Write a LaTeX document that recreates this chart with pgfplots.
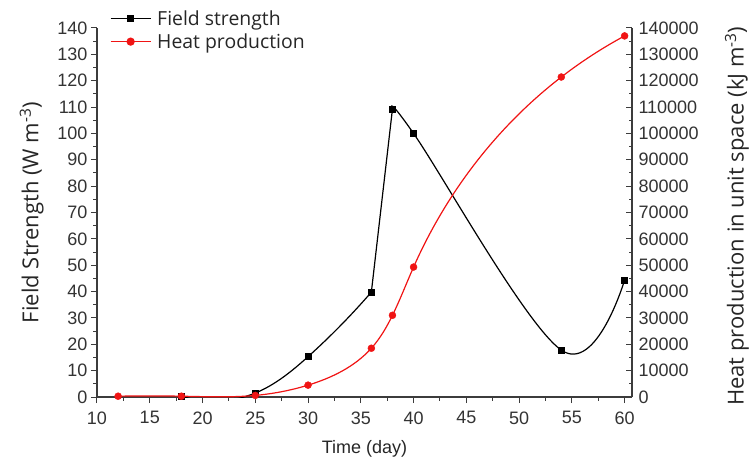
\documentclass[border=0pt]{standalone}
\usepackage{pgfplots}
\pgfplotsset{compat=1.18}
\usetikzlibrary{hobby}
\usepackage{fontspec}
\setmainfont{Open Sans}
\newfontfamily\tickfont{Liberation Sans}
\definecolor{axgray}{RGB}{60,60,60}
\definecolor{myred}{RGB}{240,20,20}
\begin{document}
\begin{tikzpicture}
\pgfplotsset{
  common/.style={
    scale only axis, width=535pt, height=369pt,
    xmin=10, xmax=60.7, ymin=0,
    axis line style={-, axgray, line width=1.1pt},
    tick style={axgray, line width=1pt},
    major tick length=6pt, minor tick length=3.5pt,
    ticklabel style={font=\tickfont\fontsize{18}{18}\selectfont, text=black!80},
    /pgf/number format/assume math mode=true,
    label style={font=\fontsize{22}{24}\selectfont, text=black!85},
  }
}
\begin{axis}[common, name=main,
  ymax=140,
  axis y line*=left, axis x line*=bottom,
  tick align=outside,
  xtick={10,15,...,60}, minor x tick num=1,
  ytick={0,10,...,140}, minor y tick num=1,
  xticklabel style={yshift=-5pt},
  xlabel={Time (day)},
  ylabel={Field Strength (W m\textsuperscript{-3})},
  xlabel style={at={(axis description cs:0.5,-0.14)}, anchor=center, font=\tickfont\fontsize{18}{20}\selectfont},
  ylabel style={at={(axis description cs:-0.122,0.5)}, anchor=center},
  legend style={at={(axis description cs:0.024,1.054)}, anchor=north west,
    draw=none, fill=none, inner sep=0pt, row sep=3pt,
    font=\fontsize{19.4}{19.4}\selectfont, text=black!85,
    cells={anchor=west}},
  legend image code/.code={\draw[mark repeat=2,mark phase=2,#1] plot coordinates {(0pt,0pt)(20pt,0pt)(40pt,0pt)};},
]
\addlegendimage{black, line width=1.2pt, mark=square*, mark size=3pt}
\addlegendentry{\hspace*{4pt}Field strength}
\addlegendimage{myred, line width=1.2pt, mark=*, mark size=3.5pt}
\addlegendentry{\hspace*{4pt}Heat production}
% Field strength: line through the measured points
\addplot[black, line width=1.2pt, hobby]
  coordinates {(18,0.3) (25,1.5) (30,15.3) (36,39.8)};
\addplot[black, line width=1.2pt]
  coordinates {(36,39.8) (38,109.3)};
\addplot[black, line width=1.2pt, smooth, tension=0.6]
  coordinates {(38,109.3) (40,100) (54,17.8) (60,44.4)};
\addplot[black, only marks, mark=square*, mark size=3pt]
  coordinates {(18,0.3) (25,1.5) (30,15.3) (36,39.8) (38,109.3) (40,100) (54,17.8) (60,44.4)};
\end{axis}
\begin{axis}[common,
  ymax=140000,
  axis y line*=right, hide x axis,
  tick align=inside,
  ytick={0,10000,...,140000}, minor y tick num=1,
  scaled y ticks=false,
  yticklabel style={/pgf/number format/fixed, /pgf/number format/1000 sep={}, xshift=3pt},
  ylabel={Heat production in unit space (kJ m\textsuperscript{-3})},
  ylabel style={at={(axis description cs:1.196,0.49)}, anchor=center},
]
\addplot[myred, line width=1.2pt, hobby]
  coordinates {(12,300) (18,300) (25,600) (30,4500) (36,18500) (38,31000) (40,49300) (54,121400) (60,137000)};
\addplot[myred, only marks, mark=*, mark size=3.5pt]
  coordinates {(12,300) (18,300) (25,600) (30,4500) (36,18500) (38,31000) (40,49300) (54,121400) (60,137000)};
\end{axis}
\pgfresetboundingbox
\path[use as bounding box] ([xshift=-97pt,yshift=-64pt]main.south west) rectangle ([xshift=119pt,yshift=28pt]main.north east);
\end{tikzpicture}
\end{document}
